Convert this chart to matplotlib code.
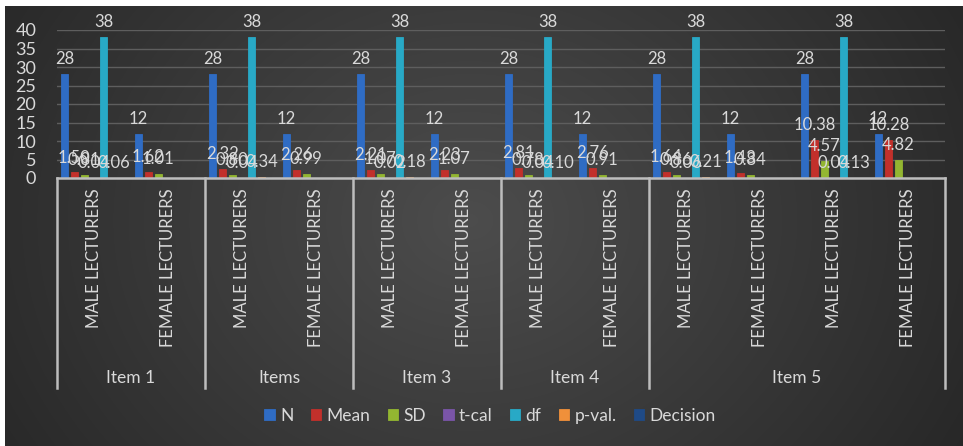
import matplotlib.pyplot as plt
import numpy as np

plt.rcParams['font.family'] = ['Lato', 'DejaVu Sans']

# subcategories along the x axis, grouped under item names
subcats = ['MALE LECTURERS', 'FEMALE LECTURERS'] * 6
groups = ['Item 1', 'Items', 'Item 3', 'Item 4', 'Item 5']
group_sizes = [2, 2, 2, 2, 4]

series = ['N', 'Mean', 'SD', 't-cal', 'df', 'p-val.', 'Decision']
N = [28, 12, 28, 12, 28, 12, 28, 12, 28, 12, 28, 12]
mean = [1.50, 1.62, 2.32, 2.26, 2.21, 2.23, 2.81, 2.76, 1.64, 1.43, 10.38, 10.28]
sd = [0.81, 1.01, 0.80, 0.99, 1.07, 1.07, 0.78, 0.91, 0.86, 0.84, 4.57, 4.82]
tcal = [0.04, None, 0.04, None, 0.02, None, 0.04, None, 0.06, None, 0.04, None]
df = [38, None, 38, None, 38, None, 38, None, 38, None, 38, None]
pval = [0.06, None, 0.34, None, 0.18, None, 0.10, None, 0.21, None, 0.13, None]
decision = [None] * 12

colors = ['#2f6cc4', '#c2302b', '#93b631', '#7a55a8', '#28a9c6', '#f0903a', '#1f4a86']
TXT = '#d9d9d9'

W, H = 963, 446
fig = plt.figure(figsize=(W / 100, H / 100), dpi=100)

# dark radial background with a thin white margin top and left
bg = fig.add_axes([0, 0, 1, 1], zorder=0)
yy, xx = np.mgrid[0:H, 0:W]
d = np.sqrt(((xx - 470) / 620.0) ** 2 + ((yy - 220) / 520.0) ** 2)
shade = np.clip(0.30 - 0.16 * d, 0.15, 0.30)
img = np.dstack([shade] * 3)
img[:6, :] = 1.0
img[:, :5] = 1.0
bg.imshow(img, extent=(0, W, H, 0), aspect='auto', interpolation='bilinear')
bg.set_axis_off()

ax = fig.add_axes([57 / W, 1 - 178 / H, (945 - 57) / W, (178 - 30) / H], zorder=1)
ax.set_facecolor('none')

x = np.arange(len(subcats))
step = 0.132
bw = 0.09
values = [N, mean, sd, tcal, df, pval, decision]
for i, (name, vals, c) in enumerate(zip(series, values, colors)):
    v = np.array([np.nan if a is None else a for a in vals], dtype=float)
    bars = ax.bar(x + (i - 3) * step, v, bw, color=c, edgecolor=c, linewidth=0.6,
                  label=name, zorder=3)
    labels = []
    for a in vals:
        if a is None:
            labels.append('')
        elif name in ('N', 'df'):
            labels.append(f'{a:.0f}')
        else:
            labels.append(f'{a:.2f}')
    ax.bar_label(bars, labels=labels, padding=5, color=TXT, fontsize=12, zorder=4)

ax.set_xlim(-0.5, len(subcats) - 0.5)
ax.set_ylim(0, 40)
ax.set_yticks(range(0, 41, 5))
ax.tick_params(axis='y', length=0, pad=15, labelcolor=TXT, labelsize=13)
ax.set_xticks([])
ax.yaxis.grid(True, color='#5e5e5e', linewidth=1, zorder=0)
for s in ax.spines.values():
    s.set_visible(False)

# two-level category axis drawn below the plot
tr = ax.get_xaxis_transform()
line_kw = dict(color='#bdbdbd', linewidth=1.8, transform=tr, clip_on=False, zorder=5)
ax.plot([-0.5, len(subcats) - 0.5], [0, 0], **line_kw)
bounds = np.concatenate([[0], np.cumsum(group_sizes)]) - 0.5
for b in bounds:
    ax.plot([b, b], [0, -1.42], **line_kw)
for xi, lab in zip(x, subcats):
    ax.text(xi, -0.07, lab, rotation=90, ha='center', va='top', color=TXT,
            fontsize=12, transform=tr)
for g, lo, hi in zip(groups, bounds[:-1], bounds[1:]):
    ax.text((lo + hi) / 2, -1.35, g, ha='center', va='center', color=TXT,
            fontsize=12.5, transform=tr)

fig.legend(loc='center', bbox_to_anchor=(490 / W, 1 - 416 / H), ncol=7,
           frameon=False, labelcolor=TXT, fontsize=12.5, handlelength=0.6,
           handleheight=0.6, handletextpad=0.3, columnspacing=1.0)

fig.savefig('out.png', dpi=100)
